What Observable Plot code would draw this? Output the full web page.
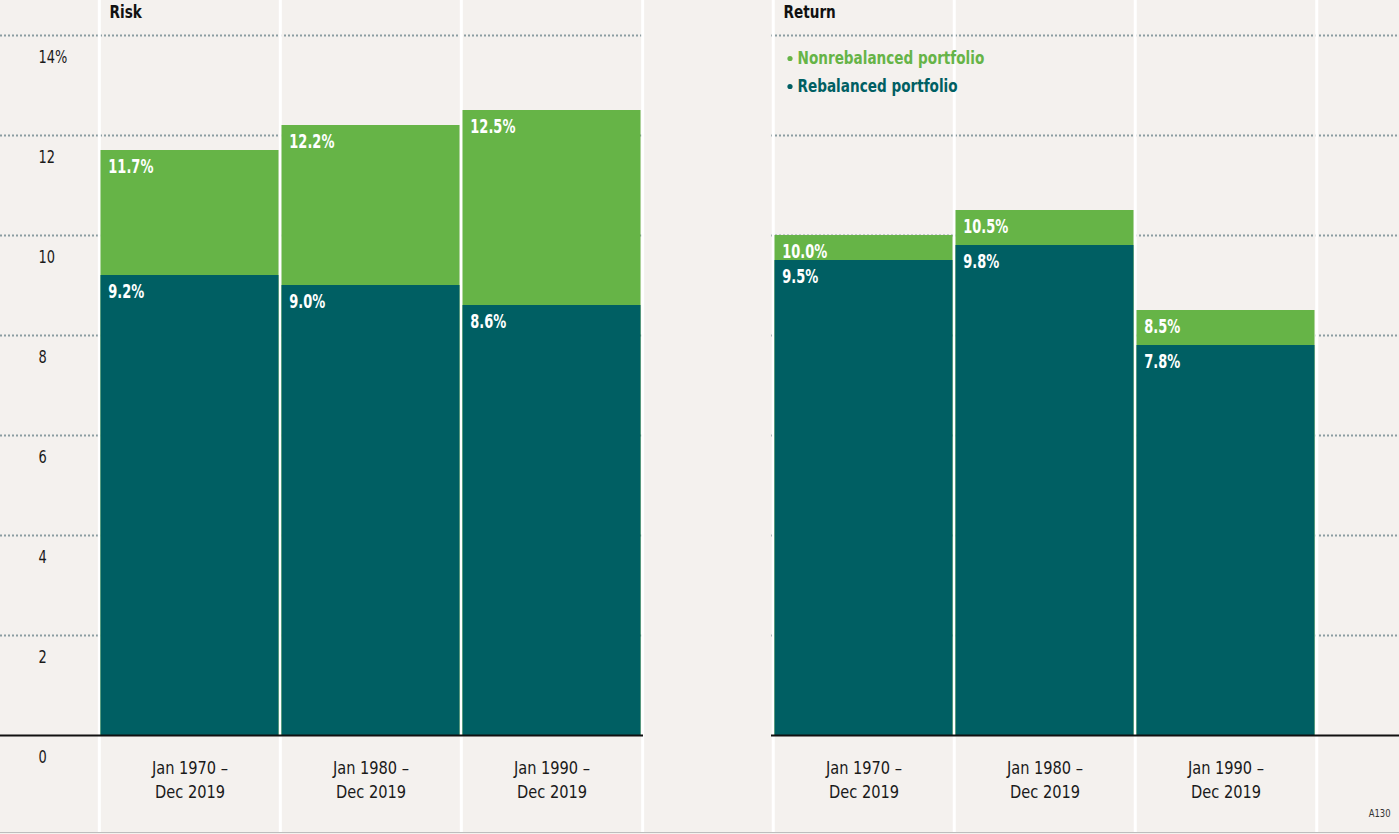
<!DOCTYPE html>
<html><head><meta charset="utf-8">
<script src="https://cdn.jsdelivr.net/npm/d3@7"></script>
<script src="https://cdn.jsdelivr.net/npm/@observablehq/plot@0.6"></script>
<style>
html,body{margin:0;padding:0;background:#f4f1ee;}
#wrap{position:relative;width:1399px;height:834px;display:flex;overflow:hidden}
#wrap::after{content:"";position:absolute;left:0;right:0;top:832px;height:1px;background:#bdbdbd}
svg{display:block}
</style></head><body><div id="wrap"></div>
<script>
const periods = ["Jan 1970 –\nDec 2019", "Jan 1980 –\nDec 2019", "Jan 1990 –\nDec 2019"];
const seriesNames = ["Nonrebalanced portfolio", "Rebalanced portfolio"];
const seriesColors = ["#66b447", "#005f63"];
const riskNonrebalanced = [11.7, 12.2, 12.5];
const riskRebalanced = [9.2, 9.0, 8.6];
const returnNonrebalanced = [10.0, 10.5, 8.5];
const returnRebalanced = [9.5, 9.8, 7.8];
const yTicks = [0, 2, 4, 6, 8, 10, 12, 14];
const yTickLabels = ["0", "2", "4", "6", "8", "10", "12", "14%"];
const panelTitles = ["Risk", "Return"];
const sourceNote = "A130";

const FONT = '"Liberation Sans Narrow","Arial Narrow","DejaVu Sans Condensed",sans-serif';
// horizontal squeeze per text group, to mimic a condensed typeface
const squeeze = {"t-values": 0.76, "t-legend": 0.84, "t-title": 0.84, "t-xlabels": 0.9, "t-yticks": 0.8, "t-source": 0.85};

function panel(p) {
  const rows = periods.map((period, i) => ({period, non: p.non[i], reb: p.reb[i]}));
  const step = (p.xRange[1] - p.xRange[0]) / periods.length;
  const marks = [
    Plot.ruleY(yTicks.filter(t => t > 0), {y: d => d, stroke: "#8b9da1", strokeWidth: 2, strokeDasharray: "2,2"}),
    Plot.ruleX(periods, {x: d => d, dx: -step / 2, stroke: "#ffffff", strokeWidth: 3}),
    Plot.ruleX(periods.slice(-1), {x: d => d, dx: step / 2, stroke: "#ffffff", strokeWidth: 3}),
    Plot.barY(rows, {x: "period", y: "non", fill: seriesColors[0], insetLeft: 1.5, insetRight: 1.5}),
    Plot.barY(rows, {x: "period", y: "reb", fill: seriesColors[1], insetLeft: 1.5, insetRight: 1.5}),
    Plot.ruleY([0], {stroke: "#111111", strokeWidth: 2}),
    Plot.text(rows, {x: "period", y: "non", text: d => d.non.toFixed(1) + "%", textAnchor: "start", className: "t-values",
      dx: -step / 2 + 9, dy: 16, fill: "#ffffff", fontWeight: "bold", fontSize: 19}),
    Plot.text(rows, {x: "period", y: "reb", text: d => d.reb.toFixed(1) + "%", textAnchor: "start", className: "t-values",
      dx: -step / 2 + 9, dy: 16, fill: "#ffffff", fontWeight: "bold", fontSize: 19}),
    Plot.text(periods, {x: d => d, y: () => 0, text: d => d, dy: 43, lineHeight: 1.3, fontSize: 18, fill: "#1a1a1a",
      className: "t-xlabels"}),
    Plot.text([p.title], {frameAnchor: "top-left", lineAnchor: "middle", dx: p.titleDx, dy: 12, text: d => d,
      textAnchor: "start", fontWeight: "bold", fontSize: 18, fill: "#111111", className: "t-title"})
  ];
  if (p.yAxis) {
    marks.push(Plot.text(yTicks, {y: d => d, text: (d, i) => yTickLabels[i], frameAnchor: "left", dx: 38, dy: 22,
      textAnchor: "start", fontSize: 18, fill: "#1a1a1a", className: "t-yticks"}));
  }
  if (p.legend) {
    seriesNames.forEach((name, i) => {
      marks.push(Plot.dot([name], {frameAnchor: "top-left", dx: 18.5, dy: 58 + 28 * i, r: 2.6, fill: seriesColors[i], stroke: null}));
      marks.push(Plot.text([name], {frameAnchor: "top-left", lineAnchor: "middle", dx: 26, dy: 58 + 28 * i, text: d => d,
        textAnchor: "start", fill: seriesColors[i], fontWeight: "bold", fontSize: 18, className: "t-legend"}));
    });
    marks.push(Plot.text([sourceNote], {frameAnchor: "bottom-right", lineAnchor: "middle", dx: -9, dy: -19, text: d => d,
      textAnchor: "end", fontSize: 11, fill: "#333333", className: "t-source"}));
  }
  return Plot.plot({
    width: p.width, height: 834,
    marginTop: 0, marginBottom: 2, marginLeft: p.marginLeft, marginRight: p.marginRight,
    x: {type: "band", domain: periods, range: p.xRange, padding: 0, axis: null},
    y: {domain: [0, 14], range: [735, 35], axis: null},
    style: {background: "transparent", fontFamily: FONT, overflow: "visible"},
    marks
  });
}

const wrap = document.getElementById("wrap");
wrap.append(panel({title: panelTitles[0], non: riskNonrebalanced, reb: riskRebalanced, width: 707,
  marginLeft: 0, marginRight: 64, xRange: [98.5, 642.5], titleDx: 109, yAxis: true, legend: false}));
wrap.append(panel({title: panelTitles[1], non: returnNonrebalanced, reb: returnRebalanced, width: 692,
  marginLeft: 64, marginRight: 0, xRange: [65, 609.5], titleDx: 12, yAxis: false, legend: true}));

// condense text horizontally (the condensed face of the original is not installed)
for (const [cls, f] of Object.entries(squeeze)) {
  wrap.querySelectorAll(`g.${cls} text`).forEach(function (el) {
    const spans = el.querySelectorAll("tspan");
    const targets = spans.length ? Array.from(spans) : [el];
    for (const t of targets) {
      const len = t.getComputedTextLength();
      t.setAttribute("textLength", (len * f).toFixed(2));
      t.setAttribute("lengthAdjust", "spacingAndGlyphs");
    }
  });
}
</script></body></html>
